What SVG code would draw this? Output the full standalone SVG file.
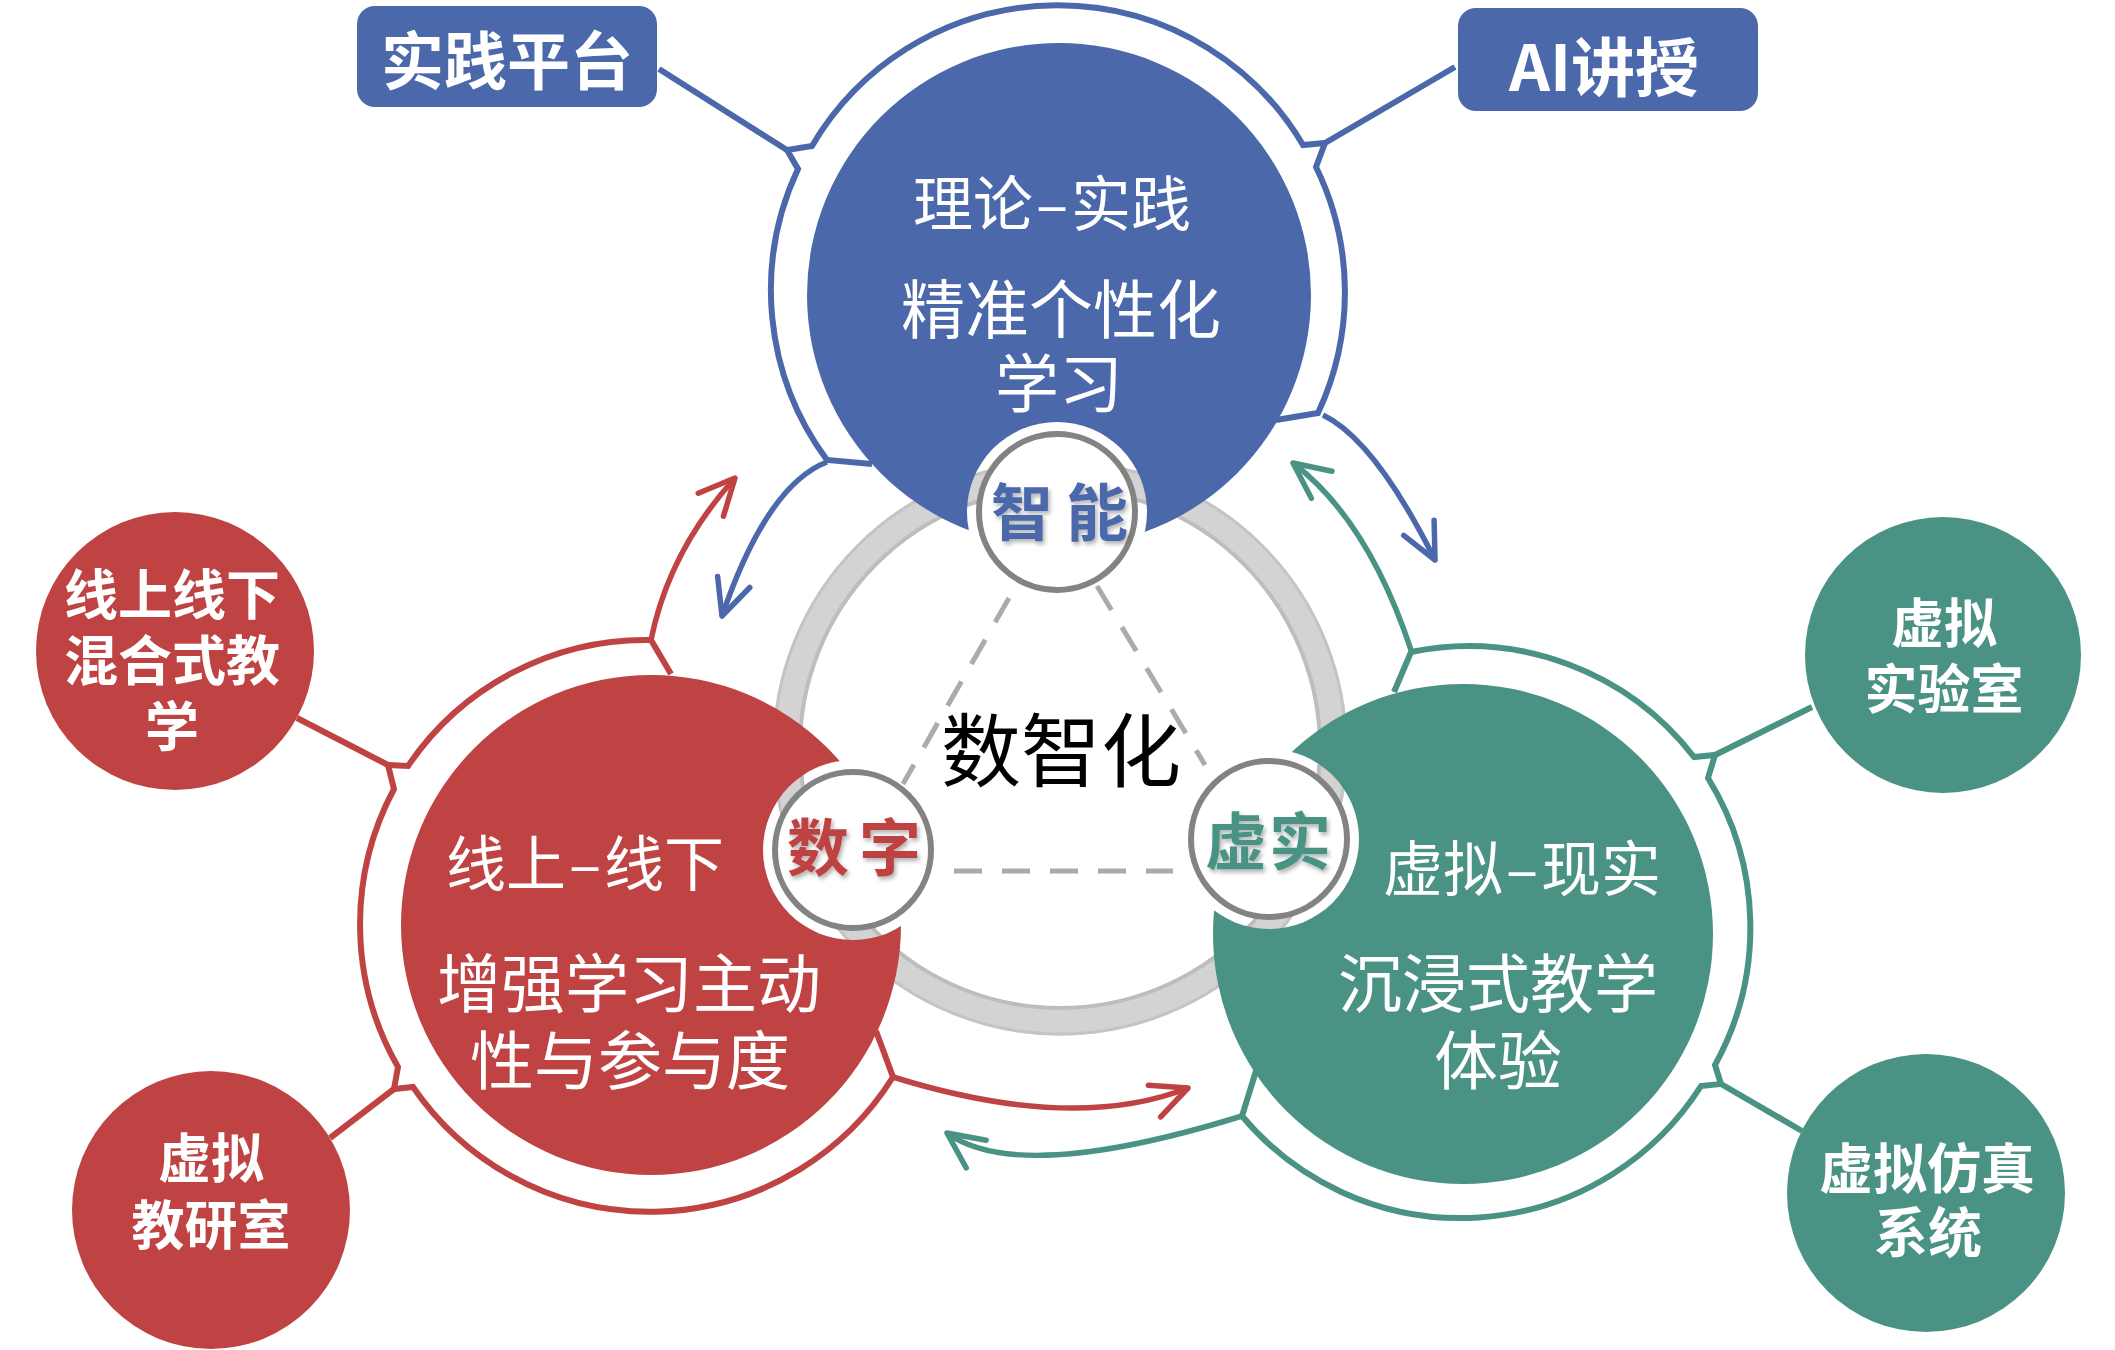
<svg xmlns="http://www.w3.org/2000/svg" width="2115" height="1350" viewBox="0 0 2115 1350">
<defs>
<style>
text{font-family:"Noto Sans CJK SC","Noto Sans",sans-serif;text-anchor:middle;}
.w{fill:#ffffff;}
.bold{font-weight:700;}
.ringB{fill:none;stroke:#4B69AA;stroke-width:6;stroke-linejoin:miter;}
.ringR{fill:none;stroke:#BF4343;stroke-width:6;stroke-linejoin:miter;}
.ringG{fill:none;stroke:#4A9384;stroke-width:6;stroke-linejoin:miter;}
.arB{fill:none;stroke:#4B69AA;stroke-width:5.5;marker-end:url(#ahB);}
.arR{fill:none;stroke:#BF4343;stroke-width:5.5;marker-end:url(#ahR);}
.arG{fill:none;stroke:#4A9384;stroke-width:5.5;marker-end:url(#ahG);}
.dash{fill:none;stroke:#ABABAB;stroke-width:5;stroke-dasharray:28 20;}
.lab{fill:#ffffff;stroke:#838383;stroke-width:6;}
.labt{font-size:62px;font-weight:700;filter:url(#sh);}
</style>
<filter id="sh" x="-20%" y="-20%" width="140%" height="140%">
<feDropShadow dx="2" dy="3" stdDeviation="2" flood-color="#000" flood-opacity="0.3"/>
</filter>
<mask id="mB"><rect width="2115" height="1350" fill="#fff"/><circle cx="1057" cy="512" r="90" fill="#000"/></mask>
<mask id="mR"><rect width="2115" height="1350" fill="#fff"/><circle cx="853" cy="850" r="90" fill="#000"/></mask>
<mask id="mG"><rect width="2115" height="1350" fill="#fff"/><circle cx="1269" cy="839" r="90" fill="#000"/></mask>
<marker id="ahB" markerUnits="userSpaceOnUse" viewBox="-50 -30 60 60" markerWidth="60" markerHeight="60" refX="0" refY="0" orient="auto" overflow="visible"><path d="M-36,-17 L0,0 L-36,17" fill="none" stroke="#4B69AA" stroke-width="5.5" stroke-linecap="round" stroke-linejoin="round"/></marker>
<marker id="ahR" markerUnits="userSpaceOnUse" viewBox="-50 -30 60 60" markerWidth="60" markerHeight="60" refX="0" refY="0" orient="auto" overflow="visible"><path d="M-36,-17 L0,0 L-36,17" fill="none" stroke="#BF4343" stroke-width="5.5" stroke-linecap="round" stroke-linejoin="round"/></marker>
<marker id="ahG" markerUnits="userSpaceOnUse" viewBox="-50 -30 60 60" markerWidth="60" markerHeight="60" refX="0" refY="0" orient="auto" overflow="visible"><path d="M-36,-17 L0,0 L-36,17" fill="none" stroke="#4A9384" stroke-width="5.5" stroke-linecap="round" stroke-linejoin="round"/></marker>
</defs>
<rect width="2115" height="1350" fill="#ffffff"/>

<g id="center-ring">
<circle cx="1060" cy="748" r="273" fill="none" stroke="#D3D3D3" stroke-width="29"/>
<circle cx="1060" cy="748" r="286" fill="none" stroke="#C4C4C4" stroke-width="3"/>
<circle cx="1060" cy="748" r="260" fill="none" stroke="#BDBDBD" stroke-width="4"/>
<text x="1061" y="780" font-size="80" fill="#000">数智化</text>
</g>

<g id="connectors">
<path class="dash" d="M1009,598 L903,784"/>
<path class="dash" d="M1097,586 L1205,765"/>
<path class="dash" d="M954,871 L1173,871"/>
<path class="ringB" d="M659,69 L787,150"/>
<path class="ringB" d="M1455,67 L1325,143"/>
<path class="ringR" d="M297,718 L388,765"/>
<path class="ringR" d="M330,1138 L394,1089"/>
<path class="ringG" d="M1812,707 L1715,755"/>
<path class="ringG" d="M1802,1131 L1721,1084"/>
<path class="arB" d="M827,462 Q767,485 722,616"/>
<path class="arB" d="M1323,415 Q1375,440 1435,560"/>
<path class="arR" d="M651,640 Q669,551 735,478"/>
<path class="arR" d="M893,1077 Q1073,1133 1188,1088"/>
<path class="arG" d="M1411,650 Q1368,520 1293,463"/>
<path class="arG" d="M1242,1116 Q1019,1185 947,1133"/>
</g>

<g id="node-top">
<path class="ringB" d="M872,464 L827,460 A285,285 0 0 1 798,169 L787,150 L812,146 A285,285 0 0 1 1303,145 L1325,143 L1316,167 A285,285 0 0 1 1318,413 L1276,420"/>
<circle cx="1059" cy="295" r="252" fill="#4B69AA" mask="url(#mB)"/>
<text class="w" x="1052" y="226" font-size="60">理论<tspan dx="3">–</tspan><tspan dx="3">实践</tspan></text>
<text class="w" x="1061" y="333" font-size="64">精准个性化</text>
<text class="w" x="1059" y="407" font-size="64">学习</text>
</g>

<g id="node-left">
<path class="ringR" d="M671,674 L651,640 A287,287 0 0 0 408,766 L388,765 L394,789 A287,287 0 0 0 398,1067 L394,1089 L413,1087 A287,287 0 0 0 893,1077 L876,1031"/>
<circle cx="651" cy="925" r="250" fill="#BF4343" mask="url(#mR)"/>
<text class="w" x="585" y="886" font-size="60">线上<tspan dx="3">–</tspan><tspan dx="3">线下</tspan></text>
<text class="w" x="629" y="1007" font-size="64">增强学习主动</text>
<text class="w" x="630" y="1084" font-size="64">性与参与度</text>
</g>

<g id="node-right">
<path class="ringG" d="M1394,692 L1411,652 A285,285 0 0 1 1694,757 L1715,755 L1708,778 A285,285 0 0 1 1715,1065 L1721,1084 L1701,1086 A285,285 0 0 1 1242,1116 L1256,1071"/>
<circle cx="1463" cy="934" r="250" fill="#4A9384" mask="url(#mG)"/>
<text class="w" x="1522" y="891" font-size="60">虚拟<tspan dx="3">–</tspan><tspan dx="3">现实</tspan></text>
<text class="w" x="1498" y="1007" font-size="64">沉浸式教学</text>
<text class="w" x="1498" y="1084" font-size="64">体验</text>
</g>

<g id="label-zhineng">
<circle class="lab" cx="1057" cy="512" r="78"/>
<text class="labt" x="1022 1097" y="536" fill="#4B69AA">智能</text>
</g>
<g id="label-shuzi">
<circle class="lab" cx="853" cy="850" r="78"/>
<text class="labt" x="818 890" y="871" fill="#BF4343">数字</text>
</g>
<g id="label-xushi">
<circle class="lab" cx="1269" cy="839" r="78"/>
<text class="labt" x="1236 1300" y="865" fill="#4A9384">虚实</text>
</g>

<g id="box-shijian">
<rect x="357" y="6" width="300" height="101" rx="18" fill="#4B69AA"/>
<text class="w bold" x="507" y="84" font-size="63">实践平台</text>
</g>
<g id="box-ai">
<rect x="1458" y="8" width="300" height="103" rx="18" fill="#4B69AA"/>
<text class="w bold" x="1604" y="91" font-size="64">AI讲授</text>
</g>

<g id="sat-hybrid">
<circle cx="175" cy="651" r="139" fill="#BF4343"/>
<text class="w bold" x="172" y="615" font-size="54">线上线下</text>
<text class="w bold" x="172" y="681" font-size="54">混合式教</text>
<text class="w bold" x="172" y="747" font-size="54">学</text>
</g>
<g id="sat-jiaoyan">
<circle cx="211" cy="1210" r="139" fill="#BF4343"/>
<text class="w bold" x="211" y="1178" font-size="53">虚拟</text>
<text class="w bold" x="211" y="1245" font-size="53">教研室</text>
</g>
<g id="sat-lab">
<circle cx="1943" cy="655" r="138" fill="#4A9384"/>
<text class="w bold" x="1944" y="643" font-size="53">虚拟</text>
<text class="w bold" x="1944" y="709" font-size="53">实验室</text>
</g>
<g id="sat-sim">
<circle cx="1926" cy="1193" r="139" fill="#4A9384"/>
<text class="w bold" x="1927" y="1189" font-size="54">虚拟仿真</text>
<text class="w bold" x="1928" y="1253" font-size="54">系统</text>
</g>
</svg>
